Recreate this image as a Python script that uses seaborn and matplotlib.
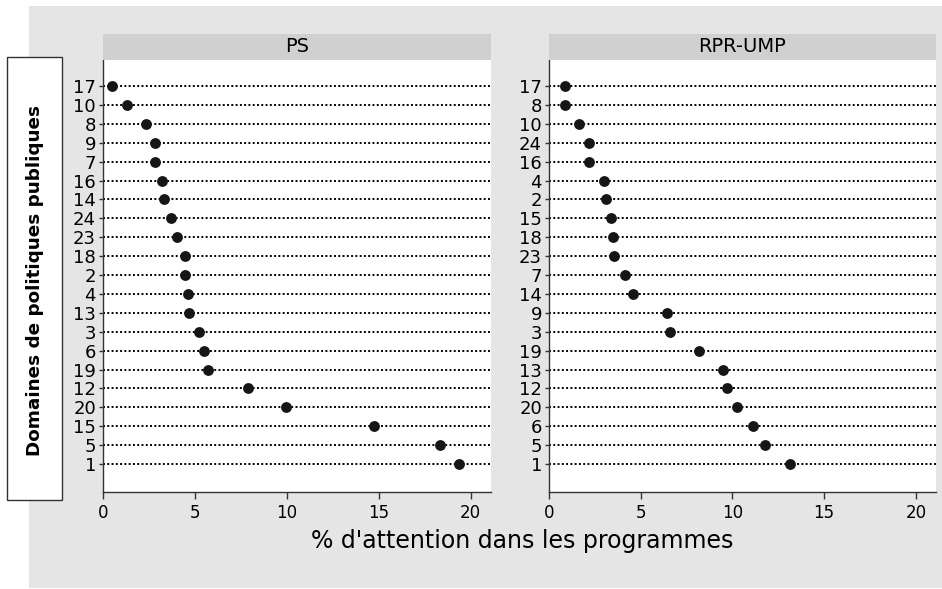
import matplotlib
matplotlib.use('Agg')
import matplotlib.pyplot as plt
import seaborn as sns
import pandas as pd
from matplotlib.patches import Rectangle

# ---- data ----
ps_domains = ["17", "10", "8", "9", "7", "16", "14", "24", "23", "18", "2",
              "4", "13", "3", "6", "19", "12", "20", "15", "5", "1"]
ps_values = [0.47, 1.29, 2.32, 2.83, 2.84, 3.22, 3.30, 3.68, 4.00, 4.44, 4.44,
             4.64, 4.69, 5.20, 5.47, 5.73, 7.88, 9.95, 14.75, 18.34, 19.35]

rpr_domains = ["17", "8", "10", "24", "16", "4", "2", "15", "18", "23", "7",
               "14", "9", "3", "19", "13", "12", "20", "6", "5", "1"]
rpr_values = [0.86, 0.89, 1.62, 2.17, 2.17, 3.00, 3.09, 3.38, 3.51, 3.57, 4.15,
              4.58, 6.46, 6.60, 8.17, 9.46, 9.71, 10.24, 11.11, 11.77, 13.15]

panel_titles = ["PS", "RPR-UMP"]
x_ticks = [0, 5, 10, 15, 20]
x_label = "% d'attention dans les programmes"
y_label = "Domaines de politiques publiques"

sns.set_theme(style='white')
plt.rcParams['font.family'] = ['DejaVu Sans']

W, H = 942, 589
fig = plt.figure(figsize=(W / 100, H / 100), dpi=100, facecolor='white')


def fx(px):
    return px / W


def fy(py):
    return 1 - py / H


def rect(x0, y0, x1, y1, **kw):
    r = Rectangle((fx(x0), fy(y1)), fx(x1) - fx(x0), fy(y0) - fy(y1),
                  transform=fig.transFigure, **kw)
    fig.add_artist(r)
    return r


# outer gray background
rect(29, 6, 942, 588, facecolor='#e5e5e5', edgecolor='none', zorder=0)

panels = [
    (103, 491, ps_domains, ps_values),
    (549, 936, rpr_domains, rpr_values),
]
top_px, bot_px = 60, 492

for (x0, x1, doms, vals), title in zip(panels, panel_titles):
    ax = fig.add_axes([fx(x0), fy(bot_px), fx(x1) - fx(x0), fy(top_px) - fy(bot_px)])
    ax.set_facecolor('white')
    df = pd.DataFrame({"domaine": doms, "pct": vals})
    sns.stripplot(data=df, x="pct", y="domaine", order=doms, orient='h',
                  jitter=False, color='#161616', size=7.8, linewidth=0, ax=ax,
                  zorder=3)
    ax.set_xlim(0, 21.1)
    ax.set_ylim(len(doms) - 1 + 1.48, -1.376)
    ax.set_xticks(x_ticks)
    ax.set_xticklabels([str(t) for t in x_ticks])
    ax.set_xlabel("")
    ax.set_ylabel("")
    ax.grid(False)
    ax.yaxis.grid(True, linestyle=(0, (1, 1.2)), color='#000000', linewidth=1.4)
    ax.set_axisbelow(True)
    for s in ['top', 'right']:
        ax.spines[s].set_visible(False)
    for s in ['left', 'bottom']:
        ax.spines[s].set_visible(True)
        ax.spines[s].set_color('#333333')
        ax.spines[s].set_linewidth(1.0)
    ax.tick_params(axis='x', bottom=True, length=5, width=1, color='#333333',
                   labelsize=12, pad=4, labelcolor='black')
    ax.tick_params(axis='y', left=True, length=3, width=1, color='#333333',
                   labelsize=13, pad=2, labelcolor='black')
    # strip header
    rect(x0, 34, x1, 60, facecolor='#d0d0d0', edgecolor='none', zorder=1)
    fig.text(fx((x0 + x1) / 2), fy(47), title, ha='center', va='center',
             fontsize=14, color='black')

# x label shared
fig.text(fx(522), fy(541), x_label, ha='center', va='center',
         fontsize=17, color='black')

# y label box
rect(7, 57, 62, 500, facecolor='white', edgecolor='#333333', linewidth=1, zorder=2)
fig.text(fx(35), fy(280), y_label, rotation=90, ha='center', va='center',
         fontsize=13.2, fontweight='bold', color='black', zorder=3)

fig.savefig('out.png', dpi=100, facecolor='white')
